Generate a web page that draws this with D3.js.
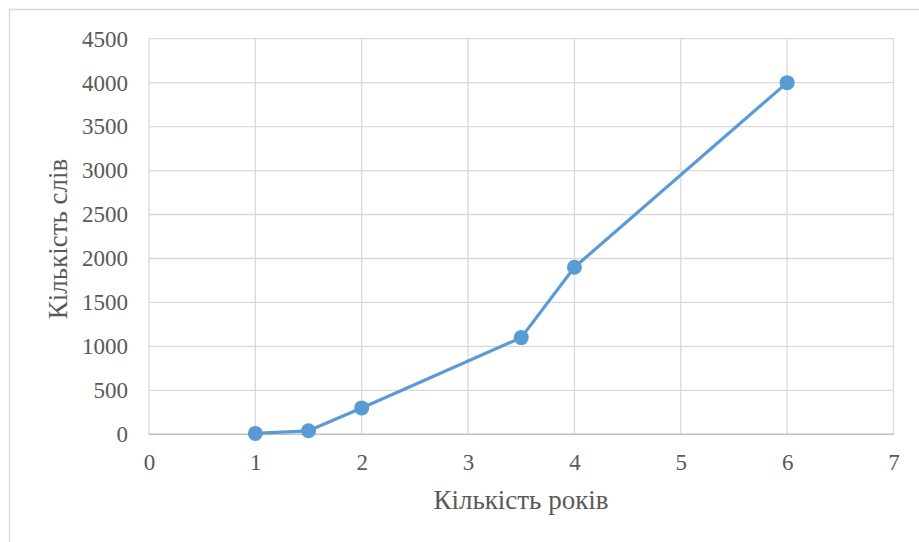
<!DOCTYPE html>
<html><head><meta charset="utf-8">
<script src="https://cdn.jsdelivr.net/npm/d3@7"></script>
<style>body{margin:0;background:#fff}svg{display:block}</style>
</head><body>
<script>
const xValues = [1, 1.5, 2, 3.5, 4, 6];
const yValues = [10, 40, 300, 1100, 1900, 4000];
const xTicks = [0, 1, 2, 3, 4, 5, 6, 7];
const yTicks = [0, 500, 1000, 1500, 2000, 2500, 3000, 3500, 4000, 4500];
const xTitle = "Кількість років";
const yTitle = "Кількість слів";

const W = 919, H = 542;
const m = {left: 149, right: 919 - 893.5, top: 38.7, bottom: 542 - 434.3};
const svg = d3.select("body").append("svg").attr("width", W).attr("height", H);
svg.append("path").attr("d", `M9.5,${H+5}V9.5H${W+5}`).attr("fill","none").attr("stroke","#d9d9d9").attr("stroke-width",1.3);

const x = d3.scaleLinear().domain([0, 7]).range([m.left, W - m.right]);
const y = d3.scaleLinear().domain([0, 4500]).range([H - m.bottom, m.top]);
const font = "'Liberation Serif', 'Times New Roman', serif";

const g = svg.append("g");
g.selectAll(".hg").data(yTicks.filter(d => d > 0)).join("line")
  .attr("x1", x(0)).attr("x2", x(7)).attr("y1", d => y(d)).attr("y2", d => y(d))
  .attr("stroke", "#d9d9d9").attr("stroke-width", 1.3);
g.selectAll(".vg").data(xTicks.filter(d => d > 0)).join("line")
  .attr("x1", d => x(d)).attr("x2", d => x(d)).attr("y1", y(0)).attr("y2", y(4500))
  .attr("stroke", "#d9d9d9").attr("stroke-width", 1.3);
g.append("line").attr("x1", x(0)).attr("x2", x(0)).attr("y1", y(0)).attr("y2", y(4500))
  .attr("stroke", "#d9d9d9").attr("stroke-width", 1.3);
g.append("line").attr("x1", x(0)).attr("x2", x(7)).attr("y1", y(0)).attr("y2", y(0))
  .attr("stroke", "#bfbfbf").attr("stroke-width", 1.5);

const yAxis = d3.axisLeft(y).tickValues(yTicks).tickSize(0).tickPadding(21).tickFormat(d3.format("d"));
const ya = svg.append("g").attr("transform", `translate(${x(0)},0)`).call(yAxis);
ya.select(".domain").remove();
ya.selectAll("text").attr("font-family", font).attr("font-size", 23).attr("fill", "#595959");

const xAxis = d3.axisBottom(x).tickValues(xTicks).tickSize(0).tickPadding(19).tickFormat(d3.format("d"));
const xa = svg.append("g").attr("transform", `translate(0,${y(0)})`).call(xAxis);
xa.select(".domain").remove();
xa.selectAll("text").attr("font-family", font).attr("font-size", 23).attr("fill", "#595959");

const pts = xValues.map((v, i) => [v, yValues[i]]);
svg.append("path").datum(pts)
  .attr("d", d3.line().x(d => x(d[0])).y(d => y(d[1])))
  .attr("fill", "none").attr("stroke", "#5b9bd5").attr("stroke-width", 3.2).attr("stroke-linejoin", "round");
svg.selectAll(".pt").data(pts).join("circle")
  .attr("cx", d => x(d[0])).attr("cy", d => y(d[1])).attr("r", 7.5).attr("fill", "#5b9bd5");

svg.append("text").attr("x", 521).attr("y", 509).attr("text-anchor", "middle")
  .attr("font-family", font).attr("font-size", 27).attr("fill", "#595959").text(xTitle);
svg.append("text").attr("transform", "translate(67,239) rotate(-90)").attr("text-anchor", "middle")
  .attr("font-family", font).attr("font-size", 27).attr("fill", "#595959").text(yTitle);
</script>
</body></html>
